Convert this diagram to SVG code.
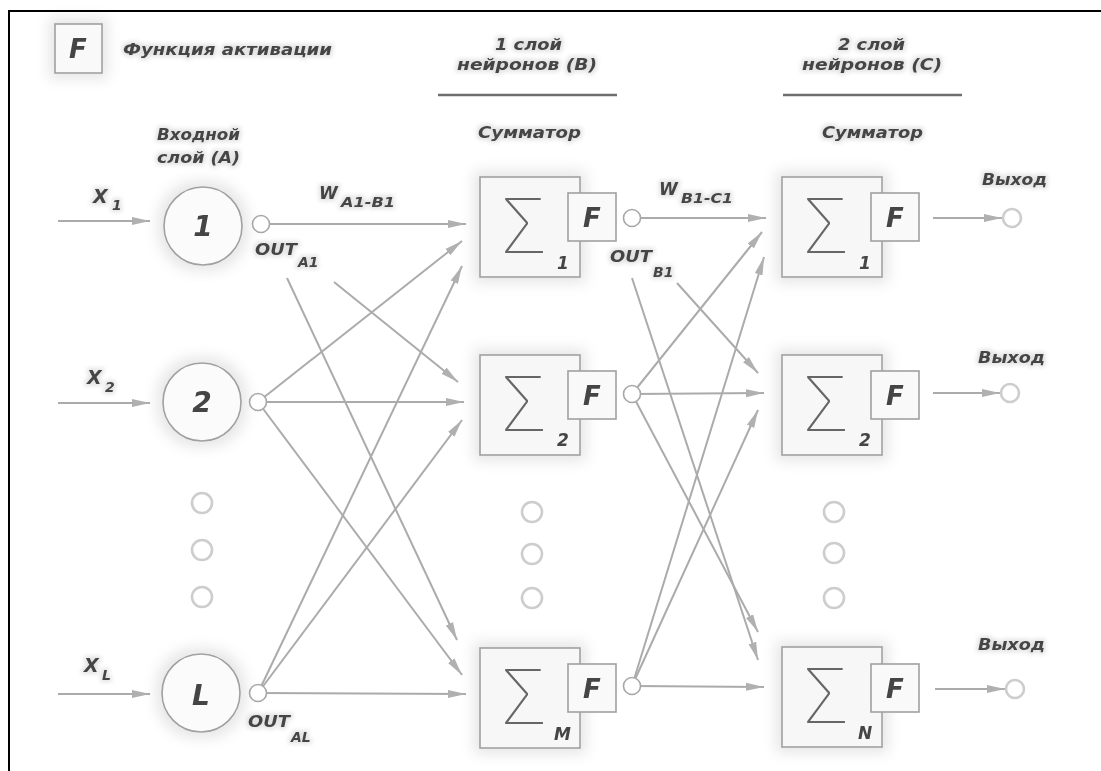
<svg xmlns="http://www.w3.org/2000/svg" width="1101" height="771" viewBox="0 0 1101 771">
<defs>
<style>
.t{font-family:"DejaVu Sans","Liberation Sans",sans-serif;font-weight:bold;font-style:italic;fill:#454545;}
.lb{font-size:16px;}
.big{font-size:28px;text-anchor:middle;}
.ff{font-size:26px;text-anchor:middle;}
.sub{font-size:14px;}
.bs{font-size:17px;}
.sig{font-family:Roboto,"DejaVu Sans",sans-serif;font-weight:100;font-style:normal;font-size:78px;fill:#666;}
.box{fill:#f7f7f7;stroke:#a0a0a0;stroke-width:1.6;}
.fbox{fill:#f9f9f9;stroke:#a0a0a0;stroke-width:1.6;}
.node{fill:#fbfbfb;stroke:#a0a0a0;stroke-width:1.6;}
.out{fill:#fff;stroke:#a8a8a8;stroke-width:1.6;}
.dot{fill:#fff;stroke:#cdcdcd;stroke-width:2.6;}
.ca{stroke:#ababab;stroke-width:2;fill:none;marker-end:url(#arr);}
.hl{stroke:#6e6e6e;stroke-width:2.5;}
</style>
<marker id="arr" viewBox="0 0 18 10" refX="18" refY="5" markerWidth="18" markerHeight="10" markerUnits="userSpaceOnUse" orient="auto">
<path d="M0,1 L18,5 L0,9 z" fill="#b0b0b0"/>
</marker>
<filter id="halo" x="-50%" y="-50%" width="200%" height="200%">
<feMorphology in="SourceAlpha" operator="dilate" radius="5" result="d"/>
<feGaussianBlur in="d" stdDeviation="7" result="b"/>
<feFlood flood-color="#000" flood-opacity="0.10"/>
<feComposite in2="b" operator="in" result="s"/>
<feMerge><feMergeNode in="s"/><feMergeNode in="SourceGraphic"/></feMerge>
</filter>
<filter id="th" x="-20%" y="-50%" width="140%" height="200%">
<feMorphology in="SourceAlpha" operator="dilate" radius="2" result="d"/>
<feGaussianBlur in="d" stdDeviation="2.2" result="b"/>
<feFlood flood-color="#000" flood-opacity="0.11"/>
<feComposite in2="b" operator="in" result="s"/>
<feMerge><feMergeNode in="s"/><feMergeNode in="SourceGraphic"/></feMerge>
</filter>
<filter id="soft"><feGaussianBlur stdDeviation="0.7"/></filter>
</defs>
<rect x="0" y="0" width="1101" height="771" fill="#fff"/>
<g id="frame" stroke="#000" stroke-width="2" fill="none">
<path d="M9,771 V11 H1101"/>
</g>
<g filter="url(#soft)">
<g id="connectors">
<line class="ca" x1="58" y1="221" x2="150" y2="221"/>
<line class="ca" x1="58" y1="403" x2="150" y2="403"/>
<line class="ca" x1="58" y1="694" x2="150" y2="694"/>
<line class="ca" x1="261" y1="224" x2="466" y2="224"/>
<line class="ca" x1="287" y1="278" x2="457" y2="640"/>
<line class="ca" x1="334" y1="282" x2="458" y2="382"/>
<line class="ca" x1="258" y1="402" x2="462" y2="241"/>
<line class="ca" x1="258" y1="402" x2="464" y2="402"/>
<line class="ca" x1="258" y1="402" x2="462" y2="675"/>
<line class="ca" x1="258" y1="693" x2="462" y2="266"/>
<line class="ca" x1="258" y1="693" x2="462" y2="420"/>
<line class="ca" x1="258" y1="693" x2="466" y2="694"/>
<line class="ca" x1="632" y1="218" x2="766" y2="218"/>
<line class="ca" x1="677" y1="283" x2="758" y2="373"/>
<line class="ca" x1="632" y1="278" x2="758" y2="660"/>
<line class="ca" x1="632" y1="394" x2="762" y2="232"/>
<line class="ca" x1="632" y1="394" x2="764" y2="393"/>
<line class="ca" x1="632" y1="394" x2="758" y2="632"/>
<line class="ca" x1="632" y1="686" x2="764" y2="257"/>
<line class="ca" x1="632" y1="686" x2="758" y2="410"/>
<line class="ca" x1="632" y1="686" x2="764" y2="687"/>
<line class="ca" x1="933" y1="218" x2="1002" y2="218"/>
<line class="ca" x1="933" y1="393" x2="1000" y2="393"/>
<line class="ca" x1="935" y1="689" x2="1005" y2="689"/>
</g>
<g id="legend">
<rect class="fbox" x="55" y="24" width="47" height="49" filter="url(#halo)"/>
<text class="t ff" x="78" y="58">F</text>
<text class="t lb" x="123" y="55" textLength="209" lengthAdjust="spacingAndGlyphs" filter="url(#th)">Функция активации</text>
</g>
<g id="headers">
<text class="t lb" x="495" y="50" textLength="67" lengthAdjust="spacingAndGlyphs" filter="url(#th)">1 слой</text>
<text class="t lb" x="457" y="70" textLength="140" lengthAdjust="spacingAndGlyphs" filter="url(#th)">нейронов (В)</text>
<line class="hl" x1="438" y1="95" x2="617" y2="95"/>
<text class="t lb" x="838" y="50" textLength="67" lengthAdjust="spacingAndGlyphs" filter="url(#th)">2 слой</text>
<text class="t lb" x="802" y="70" textLength="140" lengthAdjust="spacingAndGlyphs" filter="url(#th)">нейронов (С)</text>
<line class="hl" x1="783" y1="95" x2="962" y2="95"/>
<text class="t lb" x="478" y="138" textLength="103" lengthAdjust="spacingAndGlyphs" filter="url(#th)">Сумматор</text>
<text class="t lb" x="822" y="138" textLength="101" lengthAdjust="spacingAndGlyphs" filter="url(#th)">Сумматор</text>
<text class="t lb" x="157" y="140" textLength="83" lengthAdjust="spacingAndGlyphs" filter="url(#th)">Входной</text>
<text class="t lb" x="157" y="163" textLength="83" lengthAdjust="spacingAndGlyphs" filter="url(#th)">слой (А)</text>
</g>
<g id="inputLabels">
<text class="t" x="93" y="203" style="font-size:19px" filter="url(#th)">X<tspan class="sub" x="112" y="210">1</tspan></text>
<text class="t" x="87" y="384" style="font-size:19px" filter="url(#th)">X<tspan class="sub" x="105" y="392">2</tspan></text>
<text class="t" x="84" y="672" style="font-size:19px" filter="url(#th)">X<tspan class="sub" x="102" y="680">L</tspan></text>
</g>
<g id="nodeA1">
<circle class="node" cx="203" cy="226" r="39" filter="url(#halo)"/>
<text class="t big" x="203" y="236">1</text>
<circle class="out" cx="261" cy="224" r="8.5"/>
</g>
<g id="nodeA2">
<circle class="node" cx="202" cy="402" r="39" filter="url(#halo)"/>
<text class="t big" x="202" y="412">2</text>
<circle class="out" cx="258" cy="402" r="8.5"/>
</g>
<g id="dotsA">
<circle class="dot" cx="202" cy="503" r="10"/>
<circle class="dot" cx="202" cy="550" r="10"/>
<circle class="dot" cx="202" cy="597" r="10"/>
</g>
<g id="nodeAL">
<circle class="node" cx="201" cy="693" r="39" filter="url(#halo)"/>
<text class="t big" x="201" y="705">L</text>
<circle class="out" cx="258" cy="693" r="8.5"/>
</g>
<g id="nodeB1">
<rect class="box" x="480" y="177" width="100" height="100" filter="url(#halo)"/>
<text class="sig" x="503" y="253">Σ</text>
<text class="t bs" x="557" y="269">1</text>
<rect class="fbox" x="568" y="193" width="48" height="48"/>
<text class="t ff" x="592" y="227">F</text>
<circle class="out" cx="632" cy="218" r="8.5"/>
</g>
<g id="nodeB2">
<rect class="box" x="480" y="355" width="100" height="100" filter="url(#halo)"/>
<text class="sig" x="503" y="431">Σ</text>
<text class="t bs" x="557" y="446">2</text>
<rect class="fbox" x="568" y="371" width="48" height="48"/>
<text class="t ff" x="592" y="405">F</text>
<circle class="out" cx="632" cy="394" r="8.5"/>
</g>
<g id="dotsB">
<circle class="dot" cx="532" cy="512" r="10"/>
<circle class="dot" cx="532" cy="554" r="10"/>
<circle class="dot" cx="532" cy="598" r="10"/>
</g>
<g id="nodeBM">
<rect class="box" x="480" y="648" width="100" height="100" filter="url(#halo)"/>
<text class="sig" x="503" y="724">Σ</text>
<text class="t bs" x="554" y="740">M</text>
<rect class="fbox" x="568" y="664" width="48" height="48"/>
<text class="t ff" x="592" y="698">F</text>
<circle class="out" cx="632" cy="686" r="8.5"/>
</g>
<g id="nodeC1">
<rect class="box" x="782" y="177" width="100" height="100" filter="url(#halo)"/>
<text class="sig" x="805" y="253">Σ</text>
<text class="t bs" x="859" y="269">1</text>
<rect class="fbox" x="871" y="193" width="48" height="48"/>
<text class="t ff" x="895" y="227">F</text>
</g>
<g id="nodeC2">
<rect class="box" x="782" y="355" width="100" height="100" filter="url(#halo)"/>
<text class="sig" x="805" y="431">Σ</text>
<text class="t bs" x="859" y="446">2</text>
<rect class="fbox" x="871" y="371" width="48" height="48"/>
<text class="t ff" x="895" y="405">F</text>
</g>
<g id="dotsC">
<circle class="dot" cx="834" cy="512" r="10"/>
<circle class="dot" cx="834" cy="553" r="10"/>
<circle class="dot" cx="834" cy="598" r="10"/>
</g>
<g id="nodeCN">
<rect class="box" x="782" y="647" width="100" height="100" filter="url(#halo)"/>
<text class="sig" x="805" y="723">Σ</text>
<text class="t bs" x="858" y="739">N</text>
<rect class="fbox" x="871" y="664" width="48" height="48"/>
<text class="t ff" x="895" y="698">F</text>
</g>
<g id="outputs">
<circle class="dot" cx="1012" cy="218" r="9"/>
<circle class="dot" cx="1010" cy="393" r="9"/>
<circle class="dot" cx="1015" cy="689" r="9"/>
<text class="t lb" x="982" y="185" textLength="65" lengthAdjust="spacingAndGlyphs" filter="url(#th)">Выход</text>
<text class="t lb" x="978" y="363" textLength="67" lengthAdjust="spacingAndGlyphs" filter="url(#th)">Выход</text>
<text class="t lb" x="978" y="650" textLength="67" lengthAdjust="spacingAndGlyphs" filter="url(#th)">Выход</text>
</g>
<g id="weightLabels">
<text class="t" x="319" y="199" style="font-size:17px" filter="url(#th)">W<tspan class="sub" x="341" y="207" textLength="54" lengthAdjust="spacingAndGlyphs">A1-B1</tspan></text>
<text class="t" x="659" y="195" style="font-size:17px" filter="url(#th)">W<tspan class="sub" x="681" y="203" textLength="52" lengthAdjust="spacingAndGlyphs">B1-C1</tspan></text>
<text class="t" x="255" y="255" style="font-size:16px" filter="url(#th)"><tspan textLength="42" lengthAdjust="spacingAndGlyphs">OUT</tspan><tspan class="sub" x="298" y="267">A1</tspan></text>
<text class="t" x="610" y="262" style="font-size:16px" filter="url(#th)"><tspan textLength="42" lengthAdjust="spacingAndGlyphs">OUT</tspan><tspan class="sub" x="653" y="277">B1</tspan></text>
<text class="t" x="248" y="727" style="font-size:16px" filter="url(#th)"><tspan textLength="42" lengthAdjust="spacingAndGlyphs">OUT</tspan><tspan class="sub" x="291" y="742">AL</tspan></text>
</g>
</g>
</svg>
